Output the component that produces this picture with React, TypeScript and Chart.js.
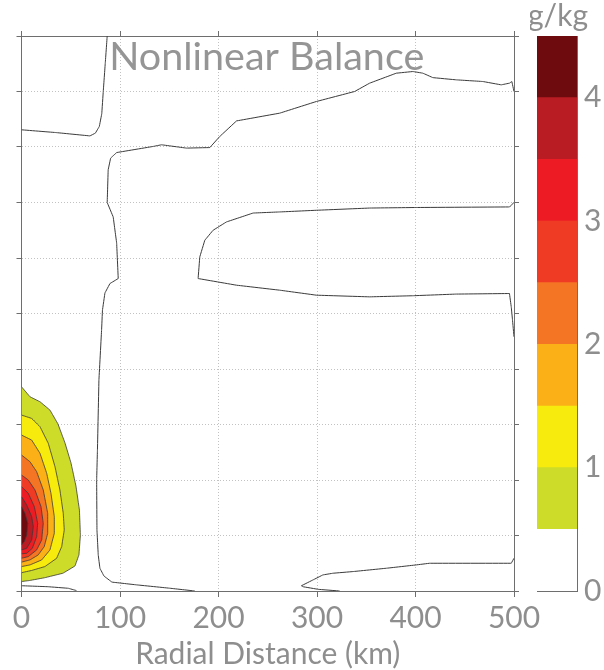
import React, { useEffect, useRef } from 'react';
import { Chart, registerables } from 'chart.js';

Chart.register(...registerables);

type Pt = [number, number];

// ---- axes / colour scale ----
const xTickValues = [0, 100, 200, 300, 400, 500];
const yTickValues = [0, 1, 2, 3, 4, 5, 6, 7, 8, 9, 10];
const colorbarLevels = [0, 0.5, 1, 1.5, 2, 2.5, 3, 3.5, 4, 4.5];
const colorbarLabels = [0, 1, 2, 3, 4];
const levelColors = ['#ffffff', '#cddc29', '#f7ea0d', '#fbb017', '#f47524', '#ef3a24', '#ed1c24', '#b91c23', '#6d0b0e'];

// ---- filled contour boundaries (km, height units) ----
const fill05: Pt[] = [[0, 3.68], [8.6, 3.5], [18.8, 3.41], [28.9, 3.26], [37.0, 3.01], [44.1, 2.67], [50.2, 2.31], [55.3, 1.89], [58.8, 1.46], [59.8, 1.01], [58.3, 0.65], [54.3, 0.45], [42.1, 0.32], [23.8, 0.24], [8.6, 0.19], [0, 0.17]];
const fill10: Pt[] = [[0, 3.17], [10.3, 3.11], [18.8, 2.96], [27.2, 2.66], [34.0, 2.24], [39.0, 1.82], [42.4, 1.4], [43.4, 1.1], [40.8, 0.8], [35.7, 0.59], [23.8, 0.44], [10.3, 0.37], [0, 0.33]];
const fill15: Pt[] = [[0, 2.81], [10.3, 2.72], [18.8, 2.48], [25.6, 2.12], [29.9, 1.76], [33.3, 1.34], [33.3, 1.04], [28.9, 0.74], [20.5, 0.56], [8.6, 0.47], [0, 0.44]];
const fill20: Pt[] = [[0, 2.45], [8.6, 2.33], [15.4, 2.15], [22.1, 1.82], [26.6, 1.4], [26.6, 1.04], [23.1, 0.8], [17.0, 0.65], [8.6, 0.56], [0, 0.52]];
const fill25: Pt[] = [[0, 2.09], [6.9, 2.0], [13.7, 1.82], [19.8, 1.52], [22.1, 1.22], [20.5, 0.92], [15.4, 0.74], [6.9, 0.62], [0, 0.59]];
const fill30: Pt[] = [[0, 1.88], [6.9, 1.76], [13.0, 1.52], [16.4, 1.22], [15.4, 0.98], [11.0, 0.77], [5.3, 0.68], [0, 0.67]];
const fill35: Pt[] = [[0, 1.7], [5.3, 1.55], [10.3, 1.34], [12.0, 1.16], [10.3, 0.92], [5.3, 0.77], [0, 0.74]];
const fill40: Pt[] = [[0, 1.52], [3.5, 1.4], [6.3, 1.22], [5.3, 1.01], [2.8, 0.89], [0, 0.83]];

// ---- other contour lines ----
const lineA: Pt[] = [[0, 8.31], [35, 8.26], [69.5, 8.2], [75, 8.25], [79, 8.37], [81.5, 8.6], [83, 9.0], [85, 9.5], [87, 10]];
const lineB: Pt[] = [[176, 0], [150.6, 0.05], [117.1, 0.11], [91.8, 0.16], [83.7, 0.27], [79.6, 0.41], [77.9, 0.65], [76.6, 1.1], [76.3, 2.0], [77.1, 2.54], [78.6, 3.8], [81.3, 4.7], [82.2, 5.06], [84.7, 5.37], [89.8, 5.54], [98.2, 5.63], [96.6, 6.27], [93.1, 6.74], [87.0, 7.0], [88.0, 7.59], [90.5, 7.8], [96.6, 7.9], [133.7, 8.01], [142.2, 8.04], [167.5, 7.98], [191.2, 7.99], [201.3, 8.19], [218.3, 8.47], [262.2, 8.61], [299.4, 8.82], [338.2, 9.0], [353.4, 9.15], [380.5, 9.33], [397.4, 9.36], [407.5, 9.33], [417.6, 9.25], [441.4, 9.21], [468.4, 9.18], [487, 9.12], [495.4, 9.15], [497.8, 9.18], [500, 9.0]];
const lineC: Pt[] = [[0, 0.095], [27.2, 0.077], [47.5, 0.049], [55.3, 0.01], [56, 0]];
const lineD: Pt[] = [[323, 0], [301.3, 0.03], [285.8, 0.077], [284.2, 0.095], [296, 0.2], [306, 0.29], [316.2, 0.32], [336.5, 0.35], [370.4, 0.41], [400.8, 0.47], [414.3, 0.5], [497.2, 0.5], [500, 0.59]];
const lineE: Pt[] = [[500, 7.0], [495.4, 6.92], [400.8, 6.91], [353.4, 6.9], [299.4, 6.86], [262.2, 6.83], [235.1, 6.81], [208.1, 6.65], [194.5, 6.5], [186.1, 6.32], [181, 6.02], [179.3, 5.63], [218.3, 5.51], [262.2, 5.42], [299.4, 5.33], [353.4, 5.3], [397.4, 5.32], [441.4, 5.35], [495.4, 5.36], [497.2, 5.12], [498.5, 4.88], [500, 4.58]];

const filledContours: Pt[][] = [fill05, fill10, fill15, fill20, fill25, fill30, fill35, fill40];
const contourLines: Pt[][] = [lineA, lineB, lineC, lineD, lineE];

const FONT = 'Lato';
const textGray = '#8e8e8e';
const axisGray = '#6e6e6e';
const gridGray = '#c2c2c2';

const toXY = (pts: Pt[]) => pts.map(([x, y]) => ({ x, y }));

export default function App() {
  const mainRef = useRef<HTMLCanvasElement | null>(null);
  const cbRef = useRef<HTMLCanvasElement | null>(null);

  useEffect(() => {
    if (!mainRef.current || !cbRef.current) return;
    const tickFont = { family: FONT, size: 30, lineHeight: 1 };

    const lineSets = contourLines.map((pts) => ({
      data: toXY(pts),
      borderColor: '#3a3a3a',
      borderWidth: 1,
      pointRadius: 0,
      fill: false,
      tension: 0.0001,
    }));
    // innermost first so it is drawn on top
    const fillSets = filledContours
      .map((pts, i) => ({
        data: toXY(pts),
        borderColor: '#3a3a3a',
        borderWidth: 0.8,
        backgroundColor: levelColors[i + 1],
        pointRadius: 0,
        fill: 'shape' as const,
        tension: 0.0001,
      }))
      .reverse();

    const innerTitle = {
      id: 'innerTitle',
      afterDraw(chart: any) {
        const { ctx, chartArea } = chart;
        ctx.save();
        ctx.font = `39.5px ${FONT}`;
        ctx.fillStyle = '#959595';
        ctx.textAlign = 'center';
        ctx.textBaseline = 'alphabetic';
        ctx.fillText('Nonlinear Balance', (chartArea.left + chartArea.right) / 2 - 1, chartArea.top + 33.5);
        ctx.restore();
      },
    };

    const unitTitle = {
      id: 'unitTitle',
      afterDraw(chart: any) {
        const { ctx, chartArea } = chart;
        ctx.save();
        ctx.font = `30px ${FONT}`;
        ctx.fillStyle = textGray;
        ctx.textAlign = 'center';
        ctx.textBaseline = 'alphabetic';
        ctx.fillText('g/kg', (chartArea.left + chartArea.right) / 2 + 1, chartArea.top - 10);
        ctx.restore();
      },
    };

    const main = new Chart(mainRef.current, {
      type: 'line',
      data: { datasets: [...lineSets, ...fillSets] as any },
      options: {
        animation: false,
        responsive: false,
        maintainAspectRatio: false,
        layout: { padding: 0 },
        plugins: { legend: { display: false }, tooltip: { enabled: false }, title: { display: false } },
        scales: {
          x: {
            type: 'linear',
            position: 'bottom',
            min: 0,
            max: 500,
            afterBuildTicks: (s: any) => { s.ticks = xTickValues.map((v) => ({ value: v })); },
            ticks: { font: tickFont, color: textGray, padding: 6, maxRotation: 0, autoSkip: false },
            grid: { color: gridGray, lineWidth: 1, tickLength: 6, tickColor: axisGray, tickWidth: 1 },
            border: { color: axisGray, width: 1, dash: [1, 2] },
            title: { display: true, text: 'Radial Distance (km)', font: tickFont, color: textGray, padding: { top: 0, bottom: 1 } },
            afterFit: (s: any) => { s.height = 79; },
          },
          x2: {
            type: 'linear',
            position: 'top',
            min: 0,
            max: 500,
            afterBuildTicks: (s: any) => { s.ticks = xTickValues.map((v) => ({ value: v })); },
            ticks: { display: false },
            grid: { drawOnChartArea: false, tickLength: 5, tickColor: axisGray, color: axisGray },
            border: { color: axisGray, width: 1 },
            afterFit: (s: any) => { s.height = 36; },
          },
          y: {
            type: 'linear',
            position: 'left',
            min: 0,
            max: 10,
            afterBuildTicks: (s: any) => { s.ticks = yTickValues.map((v) => ({ value: v })); },
            ticks: { display: false },
            grid: { color: gridGray, lineWidth: 1, tickLength: 5, tickColor: axisGray },
            border: { color: axisGray, width: 1, dash: [1, 2] },
            afterFit: (s: any) => { s.width = 21.5; },
          },
          y2: {
            type: 'linear',
            position: 'right',
            min: 0,
            max: 10,
            afterBuildTicks: (s: any) => { s.ticks = yTickValues.map((v) => ({ value: v })); },
            ticks: { display: false },
            grid: { drawOnChartArea: false, tickLength: 5, tickColor: axisGray, color: axisGray },
            border: { color: axisGray, width: 1 },
            afterFit: (s: any) => { s.width = 90; },
          },
        },
      } as any,
      plugins: [innerTitle],
    });

    const cb = new Chart(cbRef.current, {
      type: 'bar',
      data: {
        labels: [''],
        datasets: levelColors.map((c, i) => ({
          data: [colorbarLevels[i + 1] - colorbarLevels[i]],
          backgroundColor: c,
          borderWidth: 0,
          barPercentage: 1,
          categoryPercentage: 1,
          stack: 'cb',
        })),
      },
      options: {
        animation: false,
        responsive: false,
        maintainAspectRatio: false,
        layout: { padding: 0 },
        plugins: { legend: { display: false }, tooltip: { enabled: false } },
        scales: {
          x: {
            stacked: true,
            grid: { display: false },
            ticks: { display: false },
            border: { color: axisGray, width: 1 },
            afterFit: (s: any) => { s.height = 79; },
          },
          x2: {
            type: 'linear',
            position: 'top',
            min: 0,
            max: 1,
            grid: { display: false },
            ticks: { display: false },
            border: { color: axisGray, width: 1 },
            afterFit: (s: any) => { s.height = 36; },
          },
          y: {
            stacked: true,
            min: 0,
            max: 4.5,
            position: 'left',
            grid: { display: false },
            ticks: { display: false },
            border: { color: axisGray, width: 1 },
            afterFit: (s: any) => { s.width = 7; },
          },
          y2: {
            type: 'linear',
            position: 'right',
            min: 0,
            max: 4.5,
            afterBuildTicks: (s: any) => { s.ticks = colorbarLabels.map((v) => ({ value: v })); },
            grid: { display: false, drawTicks: false },
            ticks: { font: tickFont, color: textGray, padding: 7 },
            border: { color: axisGray, width: 1 },
            afterFit: (s: any) => { s.width = 27; },
          },
        },
      } as any,
      plugins: [unitTitle],
    });

    return () => {
      main.destroy();
      cb.destroy();
    };
  }, []);

  return (
    <div style={{ position: 'absolute', left: 0, top: 0, width: 604, height: 670, background: '#ffffff' }}>
      <canvas ref={mainRef} width={604} height={670} style={{ position: 'absolute', left: 0, top: 0, width: 604, height: 670 }} />
      <canvas ref={cbRef} width={74} height={670} style={{ position: 'absolute', left: 530, top: 0, width: 74, height: 670 }} />
    </div>
  );
}
